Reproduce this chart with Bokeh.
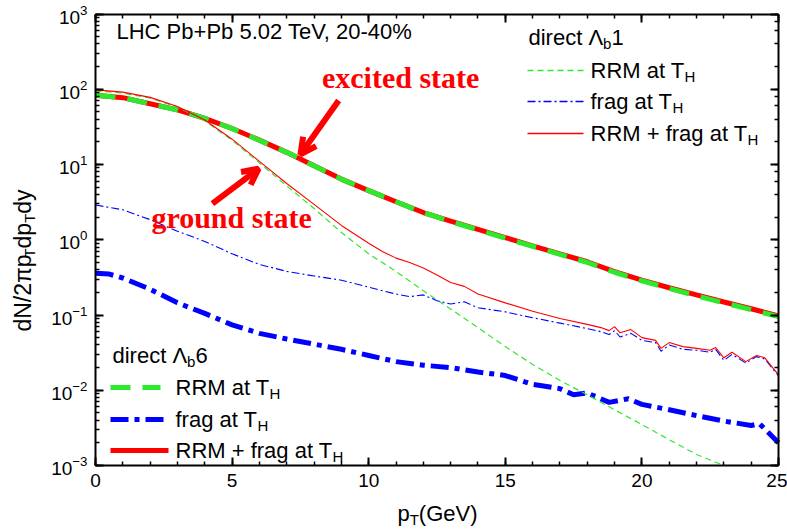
import math
from bokeh.plotting import figure
from bokeh.models import (Label, Arrow, OpenHead, LinearAxis, LogAxis, CustomJSTickFormatter,
                          SingleIntervalTicker, LogTicker, Range1d)
from bokeh.embed import file_html
from bokeh.resources import INLINE

# ---------------- data ----------------
# excited state, direct Lambda_b 6 (thick lines)
pt_ex = [0, 1, 2, 3, 4, 5, 6, 7, 8, 9, 10, 11, 12, 13, 14, 15, 16, 17, 18, 19, 20, 21, 22, 23, 24, 25]
rrm_ex = [83, 77, 64, 53, 41, 30, 21, 14.5, 9.6, 6.4, 4.5, 3.2, 2.3, 1.75, 1.35, 1.05, 0.82,
          0.64, 0.5, 0.37, 0.285, 0.225, 0.18, 0.145, 0.118, 0.095]
tot_ex = [83.4, 77.3, 64.2, 53.1, 41.1, 30.1, 21.1, 14.5, 9.6, 6.4, 4.5, 3.2, 2.3, 1.77, 1.37,
          1.07, 0.83, 0.65, 0.51, 0.378, 0.29, 0.23, 0.185, 0.149, 0.121, 0.097]
pt_frag6 = [0, 0.5, 1, 2, 3, 4, 5, 6, 7, 8, 9, 10, 11, 12, 13, 14, 15, 16, 17, 17.5, 18,
            18.8, 19.5, 20, 21, 22, 23, 24, 24.3, 25]
frag6 = [0.36, 0.35, 0.31, 0.22, 0.145, 0.105, 0.074, 0.057, 0.048, 0.041, 0.035, 0.029,
         0.024, 0.0215, 0.02, 0.0175, 0.0157, 0.012, 0.0105, 0.0087, 0.0092, 0.0069, 0.0077,
         0.0065, 0.0055, 0.0046, 0.0039, 0.0034, 0.0036, 0.002]

# ground state, direct Lambda_b 1 (thin lines)
pt_gr = [0, 1, 2, 3, 4, 5, 6, 7, 8, 9, 10, 11, 12, 13, 14, 15, 16, 17, 18, 19, 20, 21, 22, 23]
rrm_gr = [95, 89, 76, 58, 38, 21, 10.5, 5.2, 2.6, 1.25, 0.65, 0.38, 0.21, 0.12, 0.068, 0.038,
          0.022, 0.0135, 0.0087, 0.0055, 0.0035, 0.0022, 0.0014, 0.001]
pt_f1 = [0, 1, 2, 3, 4, 5, 6, 7, 8, 9, 10, 10.5, 11, 11.5, 12, 12.5, 13, 13.5, 14, 15, 16, 17,
         18, 18.5, 18.8, 19, 19.2, 19.6, 20, 20.5, 20.7, 21, 21.5, 22, 22.5, 22.7, 23, 23.3,
         23.8, 24.2, 24.5, 25]
frag1 = [2.9, 2.5, 1.85, 1.3, 0.95, 0.65, 0.47, 0.38, 0.33, 0.29, 0.235, 0.21, 0.19, 0.175,
         0.185, 0.155, 0.14, 0.15, 0.125, 0.11, 0.092, 0.078, 0.066, 0.06, 0.055, 0.062, 0.051,
         0.057, 0.046, 0.043, 0.033, 0.04, 0.035, 0.034, 0.032, 0.035, 0.025, 0.03, 0.023,
         0.028, 0.026, 0.0155]
tot1 = [98, 91.5, 78, 59, 39, 21.7, 11, 5.6, 2.95, 1.55, 0.9, 0.7, 0.57, 0.5, 0.42, 0.34, 0.27,
        0.24, 0.19, 0.145, 0.112, 0.09, 0.075, 0.068, 0.062, 0.07, 0.058, 0.064, 0.05, 0.046,
        0.036, 0.043, 0.038, 0.036, 0.034, 0.037, 0.027, 0.032, 0.024, 0.029, 0.027, 0.016]

x_lim = (0, 25)
y_lim = (1e-3, 1e3)
x_tick_interval = 5

title_text = "LHC Pb+Pb 5.02 TeV, 20-40%"
excited_text = "excited state"
ground_text = "ground state"

GREEN = "#2ee82e"
BLUE = "#0000ff"
RED = "#ff0000"
FONT = "Liberation Sans"

# ---------------- geometry ----------------
W_FIG, H_FIG = 787, 530
PL, PT_, PR, PB = 95.0, 13.5, 778.0, 465.0   # axis box in canvas pixels
kx = (PR - PL) / (x_lim[1] - x_lim[0])
ky = (PB - PT_) / (math.log10(y_lim[1]) - math.log10(y_lim[0]))
xr = (x_lim[0] - PL / kx, x_lim[0] + (W_FIG - PL) / kx)
yr = (10 ** (math.log10(y_lim[0]) - (H_FIG - PB) / ky), 10 ** (math.log10(y_lim[1]) + PT_ / ky))

p = figure(width=W_FIG, height=H_FIG, output_backend="svg", toolbar_location=None,
           x_range=Range1d(*xr), y_range=Range1d(*yr), y_axis_type="log",
           min_border_left=0, min_border_right=0, min_border_top=0, min_border_bottom=0)
p.xgrid.grid_line_color = None
p.ygrid.grid_line_color = None
p.outline_line_color = None
p.background_fill_color = "white"
p.border_fill_color = "white"


def style_axis(ax, labels=True):
    ax.axis_line_width = 2
    ax.axis_line_color = "black"
    ax.major_tick_in = 8
    ax.major_tick_out = 0
    ax.minor_tick_in = 4
    ax.minor_tick_out = 0
    ax.major_tick_line_width = 2
    ax.minor_tick_line_width = 1.5
    ax.major_tick_line_color = "black"
    ax.minor_tick_line_color = "black"
    if labels:
        ax.major_label_text_font = FONT
        ax.major_label_text_font_size = "19px"
        ax.major_label_text_color = "black"
        ax.major_label_standoff = 8
    else:
        ax.formatter = CustomJSTickFormatter(code="return ''")
        ax.major_label_text_font_size = "8px"
        ax.major_label_standoff = 0


xax = p.xaxis[0]
xax.ticker = SingleIntervalTicker(interval=x_tick_interval, num_minor_ticks=5)
xax.bounds = x_lim
xax.fixed_location = y_lim[0]
style_axis(xax)

yax = p.yaxis[0]
yax.bounds = y_lim
yax.fixed_location = x_lim[0]
style_axis(yax)

top_ax = LinearAxis(ticker=SingleIntervalTicker(interval=x_tick_interval, num_minor_ticks=5),
                    bounds=x_lim, fixed_location=y_lim[1])
style_axis(top_ax, labels=False)
p.add_layout(top_ax, "above")

right_ax = LogAxis(ticker=LogTicker(), bounds=y_lim, fixed_location=x_lim[1])
style_axis(right_ax, labels=False)
p.add_layout(right_ax, "right")

# ---------------- curves ----------------
p.line(pt_ex, tot_ex, line_color=RED, line_width=5)
p.line(pt_ex, rrm_ex, line_color=GREEN, line_width=5, line_dash="20 12")
p.line(pt_frag6, frag6, line_color=BLUE, line_width=5, line_dash="18 6 5 6")

p.line(pt_gr, rrm_gr, line_color=GREEN, line_width=1.2, line_dash="6 4")
p.line(pt_f1, frag1, line_color=BLUE, line_width=1.1, line_dash="8 3 2 3")
p.line(pt_f1, tot1, line_color=RED, line_width=1.1)

# ---------------- text helpers ----------------
# Arial / Liberation Sans advance widths (per 1000 em)
W = {" ": 278, "%": 889, "(": 333, ")": 333, "+": 584, ",": 278, "-": 333, ".": 278,
     "/": 278, "L": 556, "H": 722, "C": 722, "P": 667, "T": 611, "V": 667, "G": 778,
     "R": 722, "M": 833, "N": 722, "a": 556, "b": 556, "c": 500, "d": 556, "e": 556,
     "f": 278, "g": 556, "i": 222, "n": 556, "p": 556, "r": 333, "t": 278, "y": 500,
     "\u03c0": 549, "\u039b": 667}


def tw(s, size):
    return sum(W.get(c, 556) for c in s) / 1000.0 * size


def rich(pieces, px, py, size, sub_size, color="black", rotated=False, center=False, drop=6):
    """pieces: list of (text, is_sub); px, py: canvas position of start (or centre)."""
    total = sum(tw(t, sub_size if s else size) for t, s in pieces)
    if rotated:
        pos = (H_FIG - py) - (total / 2 if center else 0)
    else:
        pos = px - (total / 2 if center else 0)
    for t, s in pieces:
        fs = sub_size if s else size
        if rotated:
            lab = Label(x=px + (drop if s else 0), y=pos, x_units="screen", y_units="screen",
                        text=t, angle=math.pi / 2, text_align="left", text_baseline="middle",
                        text_font=FONT, text_font_size=f"{fs}px", text_color=color)
        else:
            lab = Label(x=pos, y=(H_FIG - py) - (drop if s else 0), x_units="screen", y_units="screen",
                        text=t, text_align="left", text_baseline="middle",
                        text_font=FONT, text_font_size=f"{fs}px", text_color=color)
        p.add_layout(lab)
        pos += tw(t, fs)


# axis titles
rich([("dN/2\u03c0p", False), ("T", True), ("dp", False), ("T", True), ("dy", False)],
     22, 260, 23, 15, rotated=True, center=True, drop=7)
rich([("p", False), ("T", True), ("(GeV)", False)], 437, 513, 22, 15, center=True)

# title
rich([(title_text, False)], 116, 31, 22, 15)

# legend for direct Lambda_b 1 (top right)
rich([("direct \u039b", False), ("b", True), ("1", False)], 528, 37, 22, 15)
leg1 = [(GREEN, 1.3, "6 4", 70, "RRM at T"), (BLUE, 1.3, "8 3 2 3", 101, "frag at T"),
        (RED, 1.3, "solid", 133, "RRM + frag at T")]
for col, lw, dash, py, txt in leg1:
    p.add_layout(Arrow(end=None, x_start=527, y_start=H_FIG - py, x_end=583, y_end=H_FIG - py,
                       start_units="screen", end_units="screen", line_color=col,
                       line_width=lw, line_dash=dash))
    rich([(txt, False), ("H", True)], 590, py, 22, 15)

# legend for direct Lambda_b 6 (bottom left)
rich([("direct \u039b", False), ("b", True), ("6", False)], 112, 355, 22, 15)
leg6 = [(GREEN, 5, "20 12", 387, 160, "RRM at T"), (BLUE, 5, "18 6 5 6", 419, 167, "frag at T"),
        (RED, 5, "solid", 450, 168, "RRM + frag at T")]
for col, lw, dash, py, xe, txt in leg6:
    p.add_layout(Arrow(end=None, x_start=110, y_start=H_FIG - py, x_end=xe, y_end=H_FIG - py,
                       start_units="screen", end_units="screen", line_color=col,
                       line_width=lw, line_dash=dash))
    rich([(txt, False), ("H", True)], 175, py, 22, 15)

# annotations (data coordinates)
p.add_layout(Label(x=11.17, y=143, text=excited_text, text_align="center",
                   text_baseline="middle", text_font="Liberation Serif",
                   text_font_style="bold", text_font_size="30px", text_color=RED))
p.add_layout(Label(x=4.98, y=1.98, text=ground_text, text_align="center",
                   text_baseline="middle", text_font="Liberation Serif",
                   text_font_style="bold", text_font_size="30px", text_color=RED))
p.add_layout(Arrow(end=OpenHead(size=16, line_color=RED, line_width=6),
                   x_start=8.9, y_start=70.8, x_end=7.5, y_end=13.6,
                   line_color=RED, line_width=6))
p.add_layout(Arrow(end=OpenHead(size=16, line_color=RED, line_width=6),
                   x_start=4.28, y_start=3.02, x_end=5.97, y_end=8.8,
                   line_color=RED, line_width=6))

open("out.html", "w").write(file_html(p, INLINE))
